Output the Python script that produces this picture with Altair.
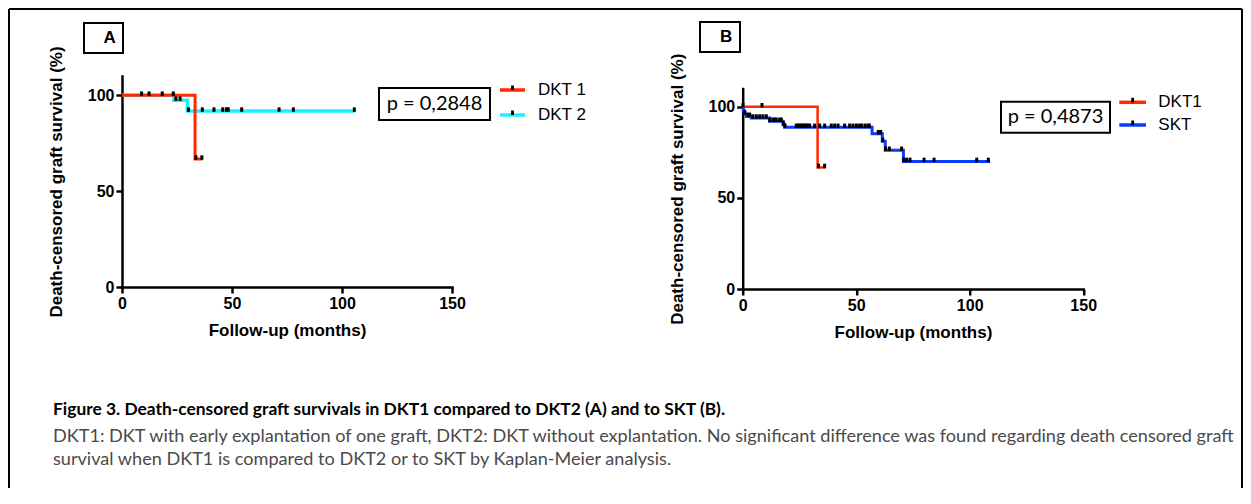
import altair as alt
import pandas as pd

# ---------------- data ----------------
RED = "#FF2A00"
CYAN = "#1EEEFF"
BLUE = "#0A3CFF"

# Panel A : step curves (time in months, survival %)
a_dkt1_t = [0, 33.2, 36.5]
a_dkt1_s = [100, 66.7, 66.7]
a_dkt2_t = [0, 23.6, 29.7, 106.0]
a_dkt2_s = [100, 97.4, 91.7, 91.7]
# censored observations
a_cens_t = [8.9, 12.3, 18.3, 23.3, 24.5, 26.4, 30.2, 36.5, 41.8, 45.8, 47.5, 48.3, 54.4, 71.4, 77.9, 105.6, 33.6, 36.3]
a_cens_s = [100, 100, 100, 100, 97.4, 97.4, 91.7, 91.7, 91.7, 91.7, 91.7, 91.7, 91.7, 91.7, 91.7, 91.7, 66.7, 66.7]

# Panel B
b_dkt1_t = [0, 33.0, 36.5]
b_dkt1_s = [100, 66.7, 66.7]
b_skt_t = [0, 0.3, 0.9, 1.6, 3.8, 11.9, 17.8, 18.5, 57.0, 61.5, 62.8, 70.8, 109.0]
b_skt_s = [100, 97.5, 96.0, 94.7, 93.8, 92.0, 90.1, 88.7, 85.2, 81.0, 76.1, 70.0, 70.0]
b_dkt1_cens_t = [8.5, 33.4, 36.1]
b_dkt1_cens_s = [100, 66.7, 66.7]
b_skt_cens_t = [0.1, 0.9, 2.3, 3.1, 4.5, 6.0, 7.5, 8.9, 10.4, 11.9, 13.3, 14.1, 14.8, 16.3, 17.0,
                17.9, 18.6, 23.6, 24.4, 25.1, 25.8, 26.6, 27.3, 28.0, 28.8, 29.5, 31.7, 33.9, 36.1,
                39.0, 40.5, 42.0, 44.9, 47.1, 48.6, 50.1, 51.5, 52.4, 53.9, 55.2, 55.8, 59.7, 60.8,
                61.7, 62.9, 64.6, 70.0, 70.9, 72.2, 73.7, 79.9, 84.3, 103.1, 108.2]


def level(ts, ss, t):
    """value of a step-after curve at time t"""
    v = ss[0]
    for ti, si in zip(ts, ss):
        if ti <= t:
            v = si
    return v


b_skt_cens_s = [level(b_skt_t, b_skt_s, t) for t in b_skt_cens_t]

x_ticks = [0, 50, 100, 150]
y_ticks = [0, 50, 100]
x_title = "Follow-up (months)"
y_title = "Death-censored graft survival (%)"

caption_title = "Figure 3. Death-censored graft survivals in DKT1 compared to DKT2 (A) and to SKT (B)."
caption_l1 = ("DKT1: DKT with early explantation of one graft, DKT2: DKT without explantation. "
              "No significant difference was found regarding death censored graft")
caption_l2 = "survival when DKT1 is compared to DKT2 or to SKT by Kaplan-Meier analysis."

one = pd.DataFrame({"k": [0]})
ARIAL = "Liberation Sans"
CAL = "Lato"


def hline(x1, x2, y, color="black", sw=2):
    return alt.Chart(one).mark_rule(color=color, strokeWidth=sw).encode(
        x=alt.value(x1), x2=alt.value(x2), y=alt.value(y))


def vline(x, y1, y2, color="black", sw=2):
    return alt.Chart(one).mark_rule(color=color, strokeWidth=sw).encode(
        x=alt.value(x), y=alt.value(y1), y2=alt.value(y2))


def box(x1, x2, y1, y2, sw=2):
    return alt.Chart(one).mark_rect(fill="white", stroke="black", strokeWidth=sw).encode(
        x=alt.value(x1), x2=alt.value(x2), y=alt.value(y1), y2=alt.value(y2))


def txt(x, y, s, size, weight="normal", font=ARIAL, align="left", color="black"):
    return alt.Chart(one).mark_text(text=s, align=align, baseline="middle", fontSize=size,
                                    fontWeight=weight, font=font, color=color).encode(
        x=alt.value(x), y=alt.value(y))


def legend_item(x1, x2, y, color, label, tx):
    mid = (x1 + x2) / 2
    return [hline(x1, x2, y, color, 3.5),
            alt.Chart(one).mark_rect(color="black").encode(
                x=alt.value(mid - 1.4), x2=alt.value(mid + 1.4), y=alt.value(y - 4.5), y2=alt.value(y)),
            txt(tx, y, label, 17)]


def panel(series, cens_t, cens_s, yrange, groups, colors):
    cscale = alt.Scale(domain=groups, range=colors)
    xenc = alt.X("t:Q", scale=alt.Scale(domain=[0, 150], nice=False, zero=False),
                 axis=alt.Axis(values=x_ticks, title=x_title, labelFlush=False, titlePadding=11))
    ysc = alt.Scale(domain=[0, 110], nice=False)
    if yrange is not None:
        ysc = alt.Scale(domain=[0, 110], nice=False, range=yrange)
    yenc = alt.Y("s:Q", scale=ysc,
                 axis=alt.Axis(values=y_ticks, title=y_title, titlePadding=22))
    layers = []
    for g, ts, ss, sw in series:
        df = pd.DataFrame({"t": ts, "s": ss, "g": [g] * len(ts)})
        layers.append(alt.Chart(df).mark_line(interpolate="step-after", strokeWidth=sw).encode(
            x=xenc, y=yenc, color=alt.Color("g:N", scale=cscale, legend=None)))
    cdf = pd.DataFrame({"t": cens_t, "s": cens_s})
    layers.append(alt.Chart(cdf).mark_tick(color="black", thickness=3, size=4.5, yOffset=-1.5, opacity=1).encode(
        x="t:Q", y="s:Q"))
    return layers


# ---------------- panel A ----------------
A_W, A_H = 330, 211
a_layers = panel([("DKT 2", a_dkt2_t, a_dkt2_s, 3.5), ("DKT 1", a_dkt1_t, a_dkt1_s, 3)],
                 a_cens_t, a_cens_s, None, ["DKT 1", "DKT 2"], [RED, CYAN])
a_deco = [
    # outer frame
    hline(-113, 1120, -67, "black", 2),
    vline(-113, -67, 412, "black", 2),
    vline(1120, -67, 412, "black", 2),
    # letter box
    box(-38, 1, -53, -23),
    txt(-18.5, -38, "A", 17, "bold"),
    # p value
    box(257, 368, 12, 44),
    txt(312.5, 28, "p = 0,2848", 20, font=CAL, align="center"),
    # caption
    txt(-69, 334, caption_title, 17.4, "bold", font=CAL),
    txt(-69, 360.5, caption_l1, 18.1, font=CAL, color="#4a4a4a"),
    txt(-69, 384, caption_l2, 18.1, font=CAL, color="#4a4a4a"),
]
a_deco += legend_item(378, 403, 14, RED, "DKT 1", 416)
a_deco += legend_item(378, 403, 39, CYAN, "DKT 2", 416)
chart_a = alt.layer(*a_layers, *a_deco).properties(width=A_W, height=A_H)

# ---------------- panel B ----------------
B_W, B_H = 340.5, 213
b_layers = panel([("SKT", b_skt_t, b_skt_s, 3), ("DKT1", b_dkt1_t, b_dkt1_s, 2.5)],
                 b_skt_cens_t + b_dkt1_cens_t, b_skt_cens_s + b_dkt1_cens_s,
                 [213, 12.5], ["DKT1", "SKT"], [RED, BLUE])
b_deco = [
    box(-42.7, -2.7, -54, -24),
    txt(-22.7, -39, "B", 17, "bold"),
    box(258.3, 367.3, 25.7, 56.7),
    txt(312.8, 41.3, "p = 0,4873", 20, font=CAL, align="center"),
]
b_deco += legend_item(376.6, 403.3, 26.3, RED, "DKT1", 415.6)
b_deco += legend_item(376.6, 403.3, 49, BLUE, "SKT", 415.6)
chart_b = alt.layer(*b_layers, *b_deco).properties(width=B_W, height=B_H)

chart = alt.hconcat(chart_a, chart_b, spacing=290.7, bounds="flush").resolve_scale(
    color="independent"
).properties(
    padding=0, background="white"
).configure_view(stroke=None).configure_axis(
    domainColor="black", domainWidth=2.5, domainCap="square",
    tickColor="black", tickWidth=2.5, tickSize=6,
    labelFont=ARIAL, labelFontWeight="bold", labelFontSize=16, labelColor="black", labelPadding=2,
    titleFont=ARIAL, titleFontWeight="bold", titleFontSize=17, titleColor="black",
    grid=False, labelOverlap=False,
)

chart.save("out.html", embed_options={"renderer": "svg", "actions": False})
